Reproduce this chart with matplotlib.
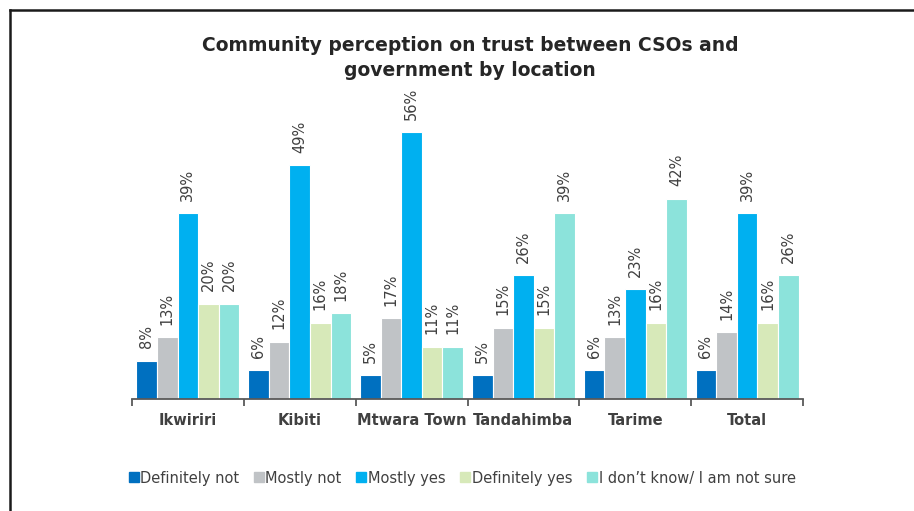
import numpy as np
import matplotlib
matplotlib.use("Agg")
import matplotlib.pyplot as plt
from matplotlib.lines import Line2D

# --- survey results (% of respondents) ---
locations = ["Ikwiriri", "Kibiti", "Mtwara Town", "Tandahimba", "Tarime", "Total"]
responses = ["Definitely not", "Mostly not", "Mostly yes", "Definitely yes",
             "I don\u2019t know/ I am not sure"]
definitely_not = [8, 6, 5, 5, 6, 6]
mostly_not = [13, 12, 17, 15, 13, 14]
mostly_yes = [39, 49, 56, 26, 23, 39]
definitely_yes = [20, 16, 11, 15, 16, 16]
dont_know = [20, 18, 11, 39, 42, 26]

series = [definitely_not, mostly_not, mostly_yes, definitely_yes, dont_know]
colors = ["#0070C0", "#C0C3C6", "#00B0F0", "#D7E9B9", "#8CE3DB"]
text_color = "#404040"

fig = plt.figure(figsize=(9.14, 5.11), dpi=100)
ax = fig.add_axes([132 / 914, 112 / 511, 671 / 914, 286 / 511])

x = np.arange(len(locations))
bar_w = 0.184
for i, (vals, col) in enumerate(zip(series, colors)):
    offs = (i - 2) * bar_w
    ax.bar(x + offs, vals, width=bar_w, color=col,
           edgecolor="white", linewidth=0.8, label=responses[i])
    for xi, v in zip(x + offs, vals):
        ax.text(xi, v + 2.6, f"{v}%", rotation=90, ha="center", va="bottom",
                fontsize=10.5, color=text_color)

ax.set_xlim(-0.5, len(locations) - 0.5)
ax.set_ylim(0, 60)
ax.set_yticks([])
for s in ["top", "right", "left"]:
    ax.spines[s].set_visible(False)
ax.spines["bottom"].set_color("#595959")
ax.spines["bottom"].set_linewidth(1.3)

# group separators as ticks, names in the middle
ax.set_xticks(np.arange(len(locations) + 1) - 0.5)
ax.set_xticklabels([])
ax.tick_params(axis="x", length=5, width=1.3, color="#595959", direction="out")
ax.set_xticks(x, minor=True)
ax.set_xticklabels(locations, minor=True, fontsize=10.5, fontweight="bold",
                   color=text_color)
ax.tick_params(axis="x", which="minor", length=0, pad=10)

fig.text(470 / 914, 1 - 58 / 511,
         "Community perception on trust between CSOs and\ngovernment by location",
         ha="center", va="center", fontsize=13.5, fontweight="bold",
         color="#262626", linespacing=1.4)

handles = [Line2D([], [], marker="s", linestyle="none", markersize=7,
                  markerfacecolor=c, markeredgecolor=c) for c in colors]
fig.legend(handles, responses, loc="center", bbox_to_anchor=(462 / 914, 1 - 478 / 511),
           ncol=5, frameon=False, fontsize=10.5, handlelength=0.7,
           handletextpad=0.1, columnspacing=1.0, labelcolor=text_color)

# outer frame (left and top edges)
fig.add_artist(Line2D([10 / 914, 10 / 914], [0, 1 - 10 / 511],
                      transform=fig.transFigure, color="#1a1a1a", linewidth=1.8))
fig.add_artist(Line2D([10 / 914, 1], [1 - 10 / 511, 1 - 10 / 511],
                      transform=fig.transFigure, color="#1a1a1a", linewidth=1.8))

fig.savefig("out.png", dpi=100)
